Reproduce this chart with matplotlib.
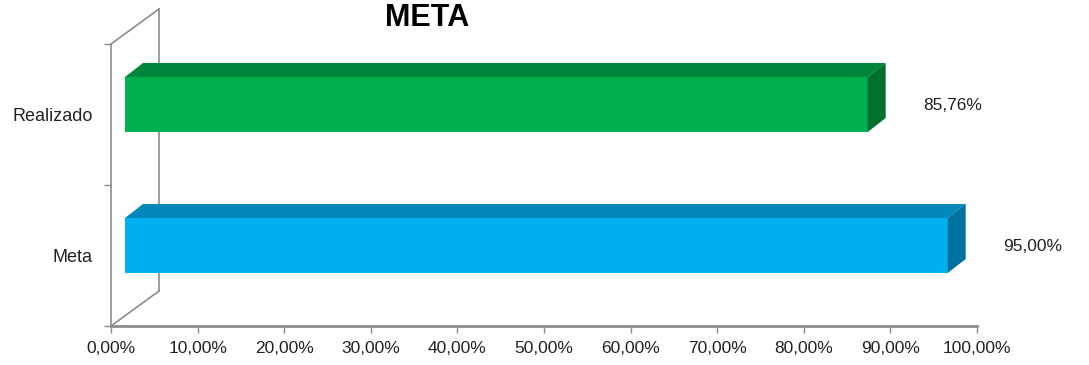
import numpy as np
import matplotlib
matplotlib.use("Agg")
import matplotlib.pyplot as plt
from matplotlib.patches import Polygon

plt.rcParams["font.family"] = ["Liberation Sans", "DejaVu Sans"]

# data
categories = ["Meta", "Realizado"]
values = [95.00, 85.76]
value_labels = ["95,00%", "85,76%"]
xticks = list(range(0, 101, 10))
xtick_labels = [f"{t},00%" for t in xticks]
title = "META"

front_colors = ["#00B0F0", "#00B050"]
top_colors = ["#0089BA", "#00853D"]
side_colors = ["#0072A0", "#00702F"]

W, H, DPI = 1089, 365, 100
fig = plt.figure(figsize=(W / DPI, H / DPI), dpi=DPI)

# axes placed so that 0..100 % spans the front plane of the chart
left_px, right_px, bot_px, top_px = 111, 977, 326, 44
ax = fig.add_axes([left_px / W, (H - bot_px) / H,
                   (right_px - left_px) / W, (bot_px - top_px) / H])
ax.set_xlim(0, 100)
ax.set_ylim(-0.5, len(categories) - 0.5)

# pixel -> data helpers for the fake 3d depth
px_x = 100.0 / (right_px - left_px)
px_y = len(categories) / (bot_px - top_px)

wall_dx, wall_dy = 48 * px_x, 35 * px_y     # depth of the side wall
plane_dx, plane_dy = 14 * px_x, 10 * px_y   # bars sit a bit inside
bar_dx, bar_dy = 18 * px_x, 14 * px_y       # depth of each bar
bar_h = 55 * px_y

grey = "#8C8C8C"
y0, y1 = -0.5, len(categories) - 0.5

# side wall outline
ax.plot([wall_dx, wall_dx], [y0 + wall_dy, y1 + wall_dy], color=grey, lw=1.2,
        zorder=1, clip_on=False)
ax.plot([0, wall_dx], [y1, y1 + wall_dy], color=grey, lw=1.2, zorder=1, clip_on=False)
ax.plot([0, wall_dx], [y0, y0 + wall_dy], color=grey, lw=1.2, zorder=1, clip_on=False)

# bars
for i, (v, fc, tc, sc) in enumerate(zip(values, front_colors, top_colors, side_colors)):
    yc = i + plane_dy
    b, t = yc - bar_h / 2, yc + bar_h / 2
    l, r = plane_dx, plane_dx + v
    ax.barh(yc, v, left=l, height=bar_h, color=fc, edgecolor="none", zorder=3)
    ax.add_patch(Polygon([(l, t), (l + bar_dx, t + bar_dy), (r + bar_dx, t + bar_dy), (r, t)],
                         closed=True, facecolor=tc, edgecolor="none", zorder=3,
                         clip_on=False))
    ax.add_patch(Polygon([(r, b), (r, t), (r + bar_dx, t + bar_dy), (r + bar_dx, b + bar_dy)],
                         closed=True, facecolor=sc, edgecolor="none", zorder=3,
                         clip_on=False))
    ax.annotate(value_labels[i], xy=(v, i), xytext=(99, 9), textcoords="offset pixels",
                ha="center", va="center", fontsize=12.5, color="#222222",
                annotation_clip=False)

# axes styling
for s in ["top", "right"]:
    ax.spines[s].set_visible(False)
ax.spines["bottom"].set_color(grey)
ax.spines["bottom"].set_linewidth(2)
ax.spines["left"].set_color(grey)
ax.spines["left"].set_linewidth(1.2)
ax.spines["bottom"].set_zorder(4)

ax.set_xticks(xticks)
ax.set_xticklabels(xtick_labels, fontsize=12.5, color="#222222")
ax.tick_params(axis="x", direction="out", length=5, width=1, color=grey, pad=6)

ax.set_yticks(range(len(categories)))
ax.set_yticklabels(categories, fontsize=13, color="#222222")
ax.set_yticks(np.arange(-0.5, len(categories), 1.0), minor=True)
ax.tick_params(axis="y", which="major", length=0, pad=13)
ax.tick_params(axis="y", which="minor", length=5, width=1, color=grey)

fig.text(427 / W, 1 - 18 / H, title, ha="center", va="center",
         fontsize=22, fontweight="bold", color="black")

fig.savefig("out.png", dpi=DPI)
